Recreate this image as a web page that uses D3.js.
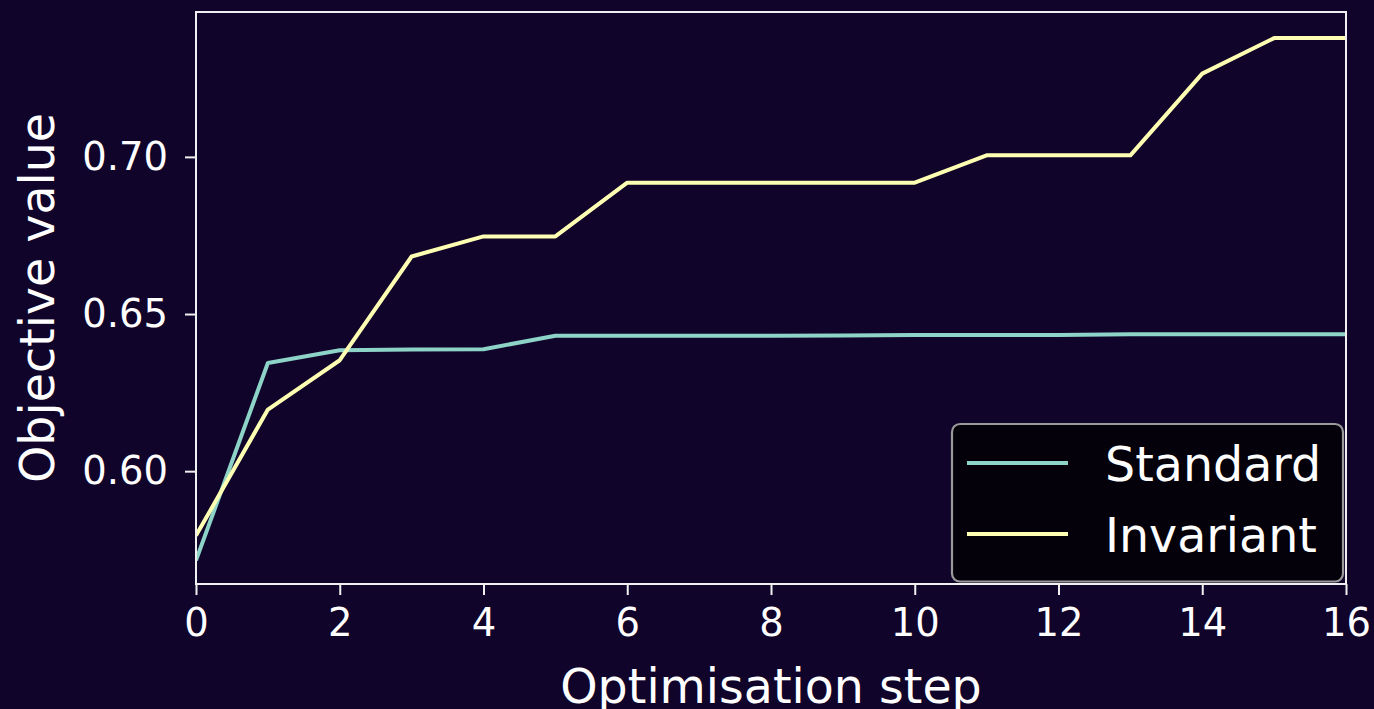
<!DOCTYPE html>
<html>
<head>
<meta charset="utf-8">
<script src="https://cdn.jsdelivr.net/npm/d3@7"></script>
<style>
  html, body { margin: 0; padding: 0; background: #10042b; }
  svg { display: block; }
  text { font-family: "DejaVu Sans", sans-serif; fill: #ffffff; }
</style>
</head>
<body>
<svg id="chart" width="1374" height="709"></svg>
<script>
// Optimisation steps and objective values for each run
const steps = [0, 1, 2, 3, 4, 5, 6, 7, 8, 9, 10, 11, 12, 13, 14, 15, 16];
const standardValues = [0.5716, 0.6344, 0.6385, 0.6387, 0.6388, 0.6431, 0.6431, 0.6431, 0.6431, 0.6432, 0.6433, 0.6433, 0.6433, 0.6436, 0.6436, 0.6436, 0.6436];
const invariantValues = [0.5795, 0.6196, 0.6353, 0.6683, 0.6747, 0.6747, 0.6918, 0.6918, 0.6918, 0.6918, 0.6918, 0.7005, 0.7005, 0.7005, 0.7265, 0.7378, 0.7378];
const seriesNames = ["Standard", "Invariant"];
const seriesColors = ["#8dd3c7", "#ffffb3"];
const xTicks = [0, 2, 4, 6, 8, 10, 12, 14, 16];
const yTicks = [0.60, 0.65, 0.70];
const xDomain = [0, 16];
const yDomain = [0.5641, 0.7461];

const svg = d3.select("#chart");
const plot = { left: 196, right: 1346, top: 12, bottom: 584 };

const x = d3.scaleLinear().domain(xDomain).range([plot.left, plot.right]);
const y = d3.scaleLinear().domain(yDomain).range([plot.bottom, plot.top]);

const axisColor = "#f0f0f0";

// Clip lines to the axes area
svg.append("defs").append("clipPath").attr("id", "plot-clip")
  .append("rect")
  .attr("x", plot.left).attr("y", plot.top)
  .attr("width", plot.right - plot.left).attr("height", plot.bottom - plot.top);

// Lines
const series = [standardValues, invariantValues];
const line = d3.line().x((d, i) => x(steps[i])).y(d => y(d));
const linesG = svg.append("g").attr("clip-path", "url(#plot-clip)");
series.forEach((vals, k) => {
  linesG.append("path")
    .datum(vals)
    .attr("d", line)
    .attr("fill", "none")
    .attr("stroke", seriesColors[k])
    .attr("stroke-width", 4)
    .attr("stroke-linejoin", "round")
    .attr("stroke-linecap", "butt");
});

// Frame
svg.append("rect")
  .attr("x", plot.left).attr("y", plot.top)
  .attr("width", plot.right - plot.left).attr("height", plot.bottom - plot.top)
  .attr("fill", "none").attr("stroke", axisColor).attr("stroke-width", 2);

// Bottom axis
const xAxis = d3.axisBottom(x).tickValues(xTicks).tickFormat(d3.format("d"))
  .tickSize(11).tickPadding(14);
const gx = svg.append("g").attr("transform", `translate(0,${plot.bottom})`).call(xAxis);
gx.select(".domain").remove();
gx.selectAll(".tick line").attr("stroke", axisColor).attr("stroke-width", 2);
gx.selectAll(".tick text").attr("fill", "#fff").style("font-size", "38.5px")
  .style("font-family", "DejaVu Sans, sans-serif");

// Left axis
const yAxis = d3.axisLeft(y).tickValues(yTicks).tickFormat(d3.format(".2f"))
  .tickSize(11).tickPadding(17);
const gy = svg.append("g").attr("transform", `translate(${plot.left},0)`).call(yAxis);
gy.select(".domain").remove();
gy.selectAll(".tick line").attr("stroke", axisColor).attr("stroke-width", 2);
gy.selectAll(".tick text").attr("fill", "#fff").style("font-size", "38.5px")
  .style("font-family", "DejaVu Sans, sans-serif");

// Axis titles
svg.append("text")
  .attr("x", (plot.left + plot.right) / 2).attr("y", 703)
  .attr("text-anchor", "middle").style("font-size", "47.5px")
  .text("Optimisation step");

svg.append("text")
  .attr("transform", `translate(54,${(plot.top + plot.bottom) / 2}) rotate(-90)`)
  .attr("text-anchor", "middle").style("font-size", "47.5px")
  .text("Objective value");

// Legend
const legend = svg.append("g");
legend.append("rect")
  .attr("x", 952).attr("y", 424).attr("width", 391).attr("height", 157.5)
  .attr("rx", 8).attr("ry", 8)
  .attr("fill", "#040108").attr("fill-opacity", 0.95)
  .attr("stroke", "#9a9a9a").attr("stroke-width", 2.2);
const legendRows = [463, 534];
seriesNames.forEach((name, k) => {
  legend.append("line")
    .attr("x1", 967).attr("x2", 1068)
    .attr("y1", legendRows[k]).attr("y2", legendRows[k])
    .attr("stroke", seriesColors[k]).attr("stroke-width", 4);
  legend.append("text")
    .attr("x", 1105).attr("y", legendRows[k] + 18)
    .style("font-size", "47.5px")
    .text(name);
});
</script>
</body>
</html>
